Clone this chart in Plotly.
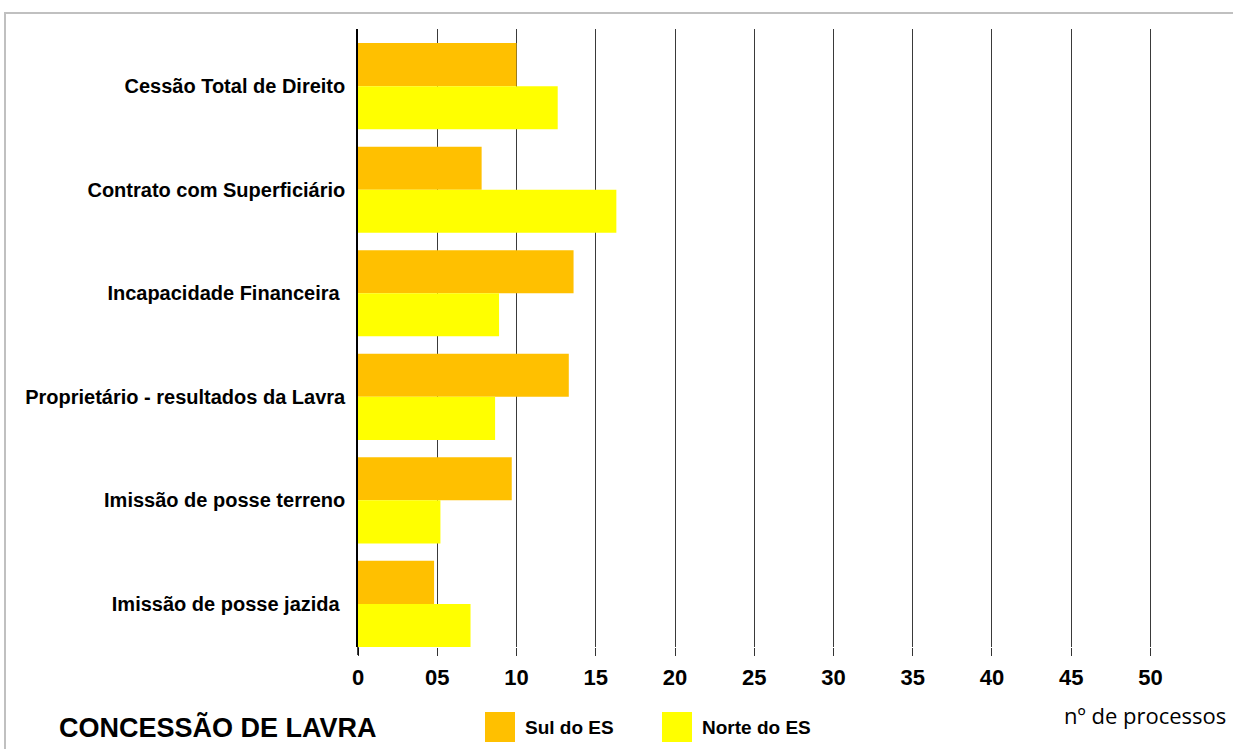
import plotly.graph_objects as go

categories = ["Cessão Total de Direito", "Contrato com Superficiário", "Incapacidade Financeira ",
              "Proprietário - resultados da Lavra", "Imissão de posse terreno", "Imissão de posse jazida "]
sul = [10.0, 7.8, 13.6, 13.3, 9.7, 4.8]
norte = [12.6, 16.3, 8.9, 8.65, 5.2, 7.1]
tick_vals = [0, 5, 10, 15, 20, 25, 30, 35, 40, 45, 50]
tick_text = ["0", "05", "10", "15", "20", "25", "30", "35", "40", "45", "50"]

SANS = "Liberation Sans, Arial"

L, R, T, B = 358, 73, 29, 102
PW, PH = 1233 - L - R, 749 - T - B

fig = go.Figure()
fig.add_trace(go.Bar(y=categories, x=sul, orientation="h", name="Sul do ES",
                     marker=dict(color="#FFC000", line=dict(width=0)), showlegend=False))
fig.add_trace(go.Bar(y=categories, x=norte, orientation="h", name="Norte do ES",
                     marker=dict(color="#FFFF00", line=dict(width=0)), showlegend=False))

fig.update_layout(
    width=1233, height=749,
    margin=dict(l=L, r=R, t=T, b=B),
    paper_bgcolor="white", plot_bgcolor="white",
    barmode="group", bargap=0.168, bargroupgap=0,
    xaxis=dict(range=[0, 50.6], tickvals=tick_vals, ticktext=tick_text,
               showgrid=True, gridcolor="#3a3a3a", gridwidth=1.2,
               zeroline=False, showline=False,
               ticks="outside", ticklen=8, tickcolor="#333", tickwidth=1,
               ticklabelstandoff=3,
               tickfont=dict(family=SANS, size=22, color="black", weight="bold")),
    yaxis=dict(range=[5.416, -0.552], showgrid=False, zeroline=False,
               showline=True, linecolor="black", linewidth=1.5,
               ticks="", ticklabelstandoff=7,
               tickfont=dict(family=SANS, size=20, color="black", weight="bold")),
    font=dict(family=SANS),
)

def px_x(p):
    return (p - L) / PW

def px_y(p):
    return (749 - B - p) / PH

# gray outer frame
fig.add_shape(type="rect", xref="paper", yref="paper",
              x0=px_x(5), x1=px_x(1245), y0=px_y(770), y1=px_y(13),
              line=dict(color="#c0c0c0", width=2), fillcolor="rgba(0,0,0,0)", layer="below")
# y-axis line extension through tick zone
fig.add_shape(type="line", xref="paper", yref="paper",
              x0=0, x1=0, y0=px_y(655), y1=0, line=dict(color="black", width=1.5))

# legend
for x0, color, label in [(485, "#FFC000", "Sul do ES"), (662, "#FFFF00", "Norte do ES")]:
    fig.add_shape(type="rect", xref="paper", yref="paper",
                  x0=px_x(x0), x1=px_x(x0 + 30), y0=px_y(742), y1=px_y(712),
                  line=dict(width=0), fillcolor=color)
    fig.add_annotation(xref="paper", yref="paper", x=px_x(x0 + 38), y=px_y(727),
                       text=f"<b>{label}</b>", showarrow=False, xanchor="left", yanchor="middle",
                       font=dict(family=SANS, size=19, color="black"))

fig.add_annotation(xref="paper", yref="paper", x=px_x(57), y=px_y(727),
                   text="<b>CONCESSÃO DE LAVRA</b>", showarrow=False, xanchor="left", yanchor="middle",
                   font=dict(family=SANS, size=27, color="black"))
fig.add_annotation(xref="paper", yref="paper", x=px_x(1228), y=px_y(715),
                   text="nº de processos", showarrow=False, xanchor="right", yanchor="middle",
                   font=dict(family="Open Sans, DejaVu Sans", size=22, color="black"))

fig.write_html("out.html")
